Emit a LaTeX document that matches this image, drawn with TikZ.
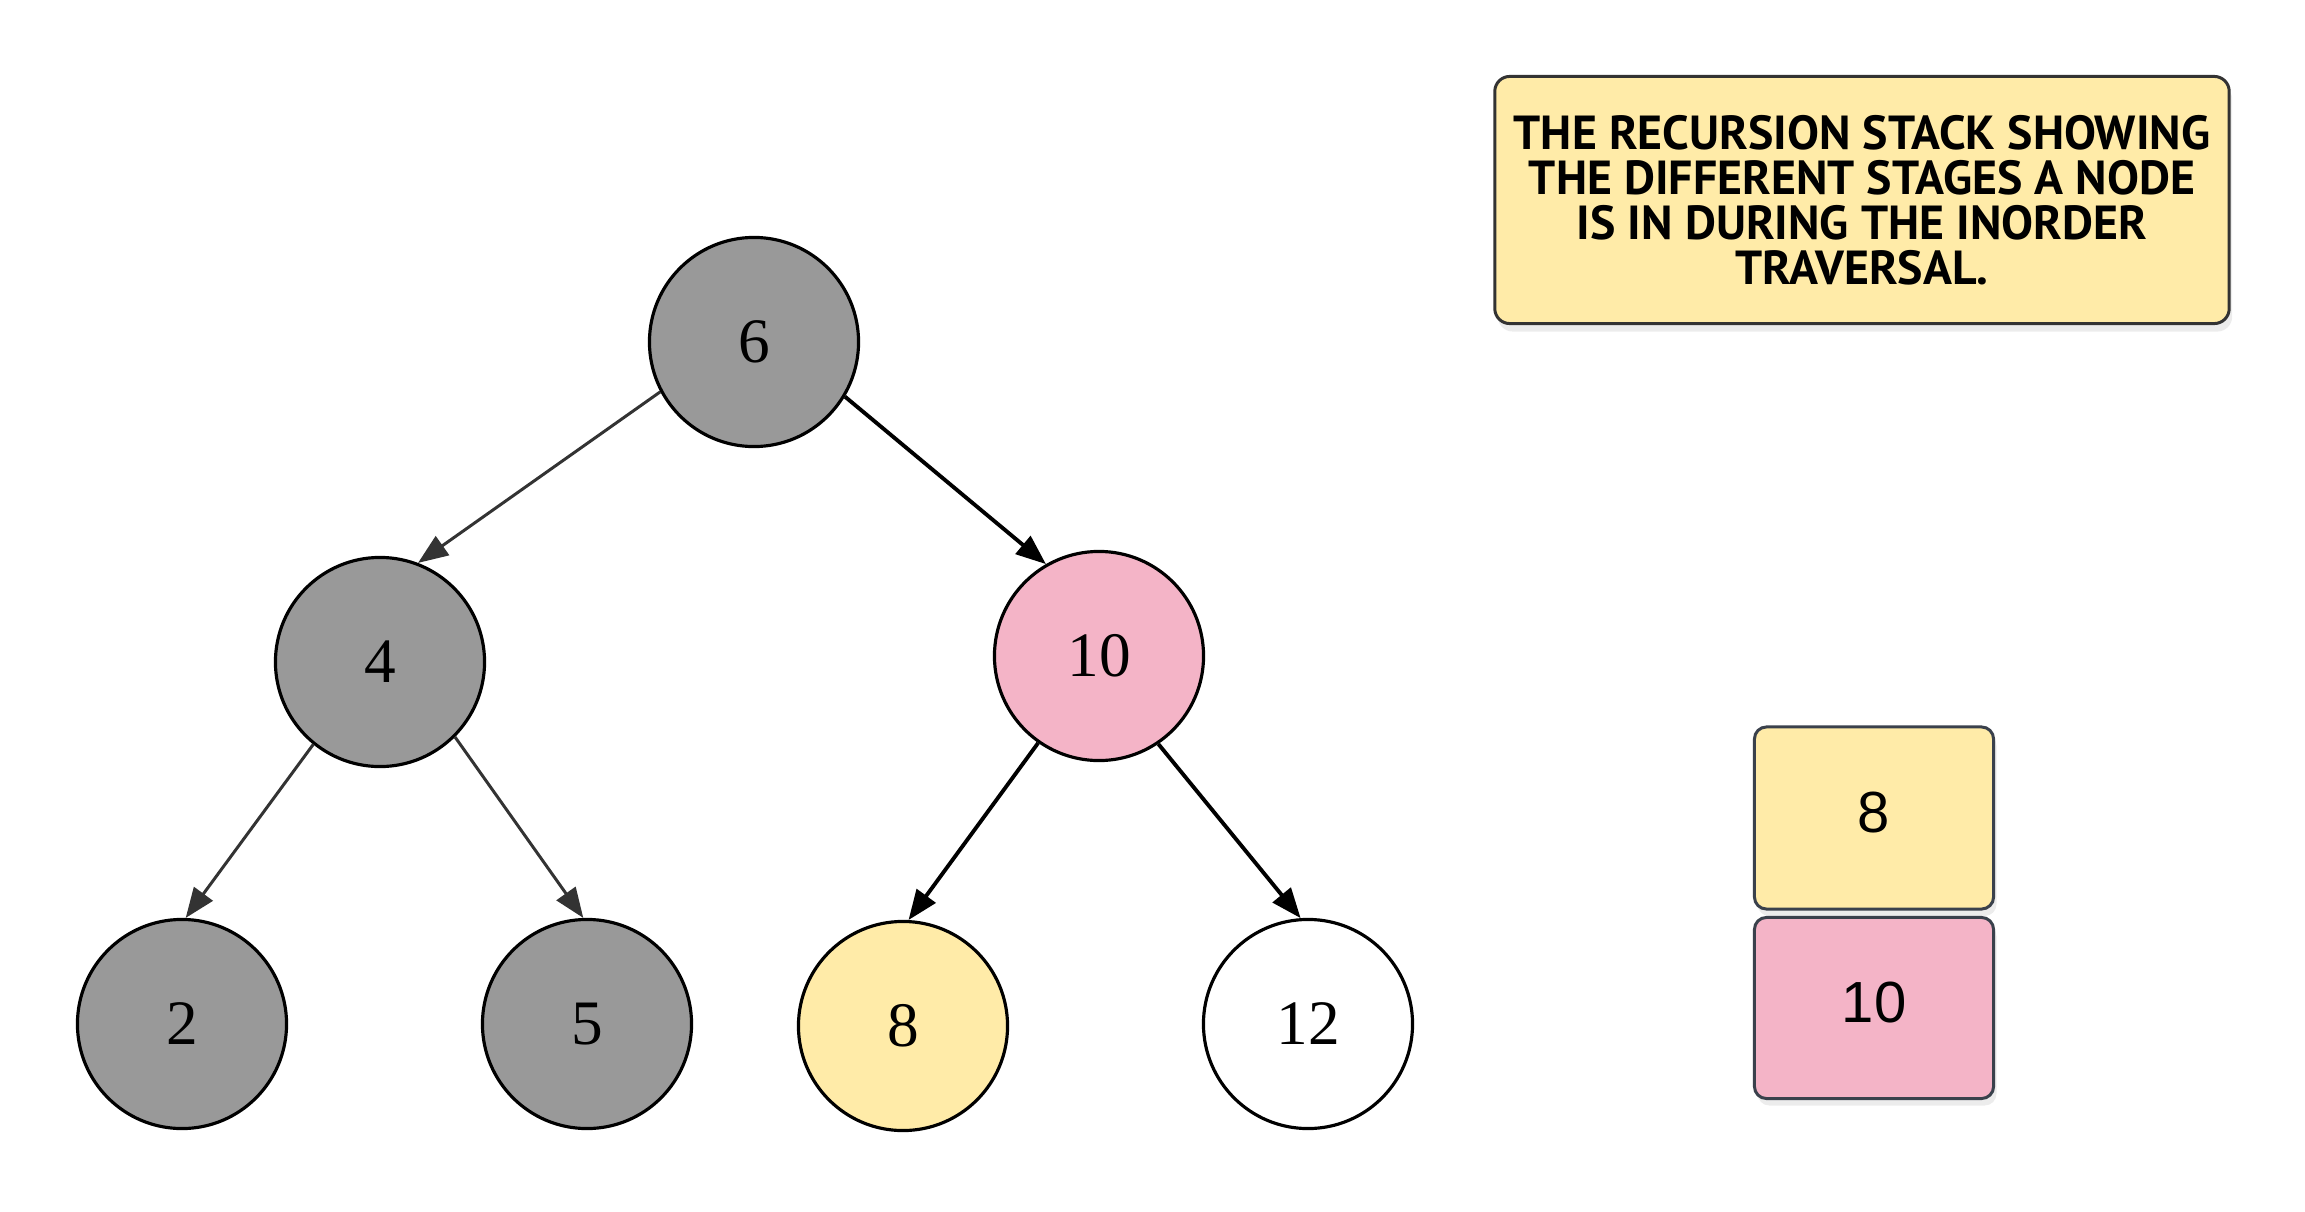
\documentclass[tikz,border=0pt]{standalone}
\usepackage{fontspec}
\setsansfont{Liberation Sans}
\newfontfamily\notefont{PT Sans}
\newfontfamily\treefont{Liberation Serif}
\usepgflibrary{arrows.meta}
\usetikzlibrary{shadows}

\definecolor{nodegray}{HTML}{999999}
\definecolor{nodepink}{HTML}{F4B4C7}
\definecolor{nodeyellow}{HTML}{FFEBA8}
\definecolor{boxline}{HTML}{3A414C}
\definecolor{edgegray}{HTML}{333333}

\begin{document}
\begin{tikzpicture}[x=0.01cm,y=-0.01cm,
	treenode/.style={circle,draw=black,line width=0.9pt,minimum size=2.09cm,inner sep=0pt,font=\treefont\fontsize{18}{21}\selectfont},
	stackbox/.style={rectangle,rounded corners=0.12cm,draw=boxline,line width=0.85pt,minimum width=2.39cm,inner sep=0pt,text depth=0.12cm,font=\sffamily\fontsize{16.5}{19}\selectfont,drop shadow={shadow xshift=0.03cm,shadow yshift=-0.07cm,opacity=0.15}},
	grayedge/.style={draw=edgegray,line width=0.85pt,-{Triangle[length=0.3cm,width=0.23cm]}},
	blackedge/.style={draw=black,line width=1.1pt,-{Triangle[length=0.3cm,width=0.23cm]}}]

					\useasboundingbox (0,0) rectangle (2305,1212);

					\node [treenode,fill=nodegray] (n6) at (754,342) {6};
					\node [treenode,fill=nodegray] (n4) at (380,662) {4};
					\node [treenode,fill=nodepink] (n10) at (1099,656) {10};
					\node [treenode,fill=nodegray] (n2) at (182,1024) {2};
					\node [treenode,fill=nodegray] (n5) at (587,1024) {5};
					\node [treenode,fill=nodeyellow] (n8) at (903,1026) {8};
					\node [treenode,fill=white] (n12) at (1308,1024) {12};

					\draw [grayedge] (n6.208) -- (n4.69);
					\draw [grayedge] (n4.231) -- (n2.88);
					\draw [grayedge] (n4.-45) -- (n5.92);
					\draw [blackedge] (n6.-31) -- (n10.120);
					\draw [blackedge] (n10.235) -- (n8.87);
					\draw [blackedge] (n10.-56) -- (n12.94);

					\node [rectangle,rounded corners=0.15cm,draw=edgegray,line width=0.85pt,fill=nodeyellow,minimum width=7.34cm,minimum height=2.47cm,align=center,
						font=\notefont\bfseries\fontsize{13.6}{12.8}\selectfont,drop shadow={shadow xshift=0.03cm,shadow yshift=-0.08cm,opacity=0.15}] (note) at (1862,200)
						{THE RECURSION STACK SHOWING\\THE DIFFERENT STAGES A NODE\\IS IN DURING THE INORDER\\TRAVERSAL.};

					\node [stackbox,fill=nodeyellow,minimum height=1.82cm] (stack8) at (1874,818) {8};
					\node [stackbox,fill=nodepink,minimum height=1.81cm] (stack10) at (1874,1008) {10};
\end{tikzpicture}
\end{document}
